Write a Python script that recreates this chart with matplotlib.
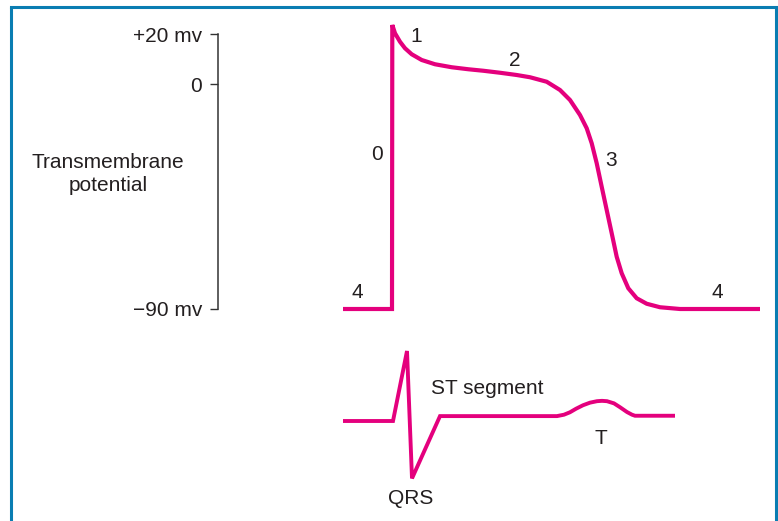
import matplotlib
matplotlib.use("Agg")
import matplotlib.pyplot as plt

# ---------------- data ----------------
# Cardiac action potential (time in ms relative to upstroke, membrane potential in mV)
ap_time = [-49, 0, 0.3, 3, 8, 13, 19.7, 29.7, 43, 59.7, 76.3, 91.3, 108, 124.7, 138,
           154.7, 168, 178, 188, 194.7, 199.7, 204.7, 209.7, 214.7, 219.7, 224.7, 229.7,
           236.3, 244.7, 254.7, 268, 288, 368]
ap_mv = [-90, -90, 23.6, 20.3, 16.9, 14.3, 11.9, 9.6, 7.9, 6.7, 5.9, 5.3, 4.5, 3.6, 2.7,
         0.9, -2.4, -6.4, -12.4, -17.7, -23.7, -31.7, -41.1, -50.4, -59.7, -69.1, -75.7,
         -81.7, -85.7, -87.9, -89.3, -90, -90]

# Surface ECG beneath (time in ms, amplitude in mV)
ecg_time = [-49, 1, 15, 20, 48, 165, 172, 178, 184, 191, 198, 205, 210, 215, 222, 228,
            235, 240, 243, 283]
ecg_mv = [0, 0, 1.0, -0.82, 0.07, 0.07, 0.09, 0.125, 0.175, 0.225, 0.262, 0.283, 0.288,
          0.283, 0.252, 0.197, 0.128, 0.090, 0.075, 0.075]

# axis ticks
y_ticks = [20, 0, -90]
y_tick_labels = ["+20 mv", "0", "\u221290 mv"]

# phase labels (text, time, mV)
phase_labels = ["0", "1", "2", "3", "4", "4"]
phase_t = [-15, 24, 123, 219, -35, 325]
phase_mv = [-28.2, 19.2, 9.6, -30.4, -83.2, -83.2]

ecg_labels = ["QRS", "ST segment", "T"]
ecg_label_t = [19, 95, 209]
ecg_label_mv = [-1.1, 0.471, -0.243]

# ---------------- style ----------------
W, H = 778, 521
MAGENTA = "#e4007d"
TEXT = "#231f20"
FRAME = "#0a7db2"
plt.rcParams["font.family"] = ["Liberation Sans", "DejaVu Sans"]

fig = plt.figure(figsize=(W / 100, H / 100), dpi=100)
fig.patch.set_facecolor("white")

# background axes in pixel units for frame and free text
bg = fig.add_axes([0, 0, 1, 1])
bg.set_xlim(0, W)
bg.set_ylim(H, 0)
bg.axis("off")
bg.plot([11, 11], [H + 5, 7], color=FRAME, lw=2.2, solid_capstyle="butt")
bg.plot([11, 776], [7, 7], color=FRAME, lw=2.2, solid_capstyle="projecting")
bg.plot([776, 776], [7, H + 5], color=FRAME, lw=2.2, solid_capstyle="butt")
bg.text(108, 174, "Transmembrane\npotential", ha="center", va="center",
        fontsize=15, color=TEXT, linespacing=1.22)


def frac_x(px):
    return px / W


def frac_y(py):
    return 1 - py / H


# ---- action potential axes ----
x_left_px, x_right_px = 218, 770
t_left, t_right = 218 - 392, 770 - 392
ap_top_px, ap_bot_px = 9, 334  # maps +30 mV .. -100 mV
ax = fig.add_axes([frac_x(x_left_px), frac_y(ap_bot_px),
                   frac_x(x_right_px) - frac_x(x_left_px), (ap_bot_px - ap_top_px) / H])
ax.set_xlim(t_left, t_right)
ax.set_ylim(-100, 30)
ax.patch.set_alpha(0)
for s in ["top", "right", "bottom"]:
    ax.spines[s].set_visible(False)
ax.spines["left"].set_bounds(-90, 20)
ax.spines["left"].set_color("#333333")
ax.spines["left"].set_linewidth(1.1)
ax.set_xticks([])
ax.set_yticks(y_ticks)
ax.set_yticklabels(y_tick_labels)
ax.tick_params(axis="y", direction="out", length=6, width=1.0, color="#333333",
               pad=5.5, labelsize=15, labelcolor=TEXT)

ax.plot(ap_time, ap_mv, color=MAGENTA, lw=3.0, solid_joinstyle="miter",
        solid_capstyle="butt")
for lab, t, v in zip(phase_labels, phase_t, phase_mv):
    ax.text(t, v, lab, ha="center", va="center", fontsize=15, color=TEXT)

# ---- ECG axes ----
ecg_top_px, ecg_bot_px = 330, 505  # maps 1.3 mV .. -1.2 mV
ax2 = fig.add_axes([frac_x(x_left_px), frac_y(ecg_bot_px),
                    frac_x(x_right_px) - frac_x(x_left_px), (ecg_bot_px - ecg_top_px) / H])
ax2.set_xlim(t_left, t_right)
ax2.set_ylim(-1.2, 1.3)
ax2.axis("off")
ax2.plot(ecg_time, ecg_mv, color=MAGENTA, lw=2.8, solid_joinstyle="miter",
         solid_capstyle="butt")
for lab, t, v in zip(ecg_labels, ecg_label_t, ecg_label_mv):
    ax2.text(t, v, lab, ha="center", va="center", fontsize=15, color=TEXT)

fig.savefig("out.png", dpi=100)
